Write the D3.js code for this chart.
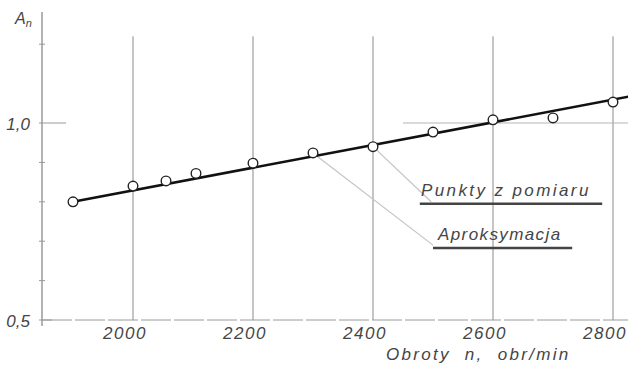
<!DOCTYPE html>
<html>
<head>
<meta charset="utf-8">
<script src="https://cdn.jsdelivr.net/npm/d3@7"></script>
<style>
  body { margin: 0; background: #fff; }
  text { font-family: "Liberation Sans", "DejaVu Sans", sans-serif; font-style: italic; fill: #454545; }
</style>
</head>
<body>
<div id="wrapper"></div>
<script>
// measured points (obroty n, obr/min -> A_n)
const rpm = [1900, 2000, 2055, 2105, 2200, 2300, 2400, 2500, 2600, 2700, 2800]
const an = [0.80, 0.84, 0.853, 0.872, 0.898, 0.924, 0.94, 0.977, 1.008, 1.013, 1.053]
// approximation line end points
const fitRpm = [1900, 2830]
const fitAn = [0.80, 1.068]
const xTicks = [2000, 2200, 2400, 2600, 2800]
const yTicks = [0.5, 1.0]
const yMinor = [0.6, 0.7, 0.8, 0.9, 1.2]
const legendLabels = ["Punkty z pomiaru", "Aproksymacja"]

const width = 628
const height = 365

const svg = d3.select("#wrapper").append("svg")
  .attr("width", width)
  .attr("height", height)

const xScale = d3.scaleLinear().domain([1900, 2800]).range([73, 613])
const yScale = d3.scaleLinear().domain([0.5, 1.0]).range([320, 123])
const axisX = 42

// grid lines
svg.append("g").selectAll("line").data(xTicks).join("line")
  .attr("x1", d => xScale(d)).attr("x2", d => xScale(d))
  .attr("y1", yScale(1.22)).attr("y2", yScale(0.5))
  .attr("stroke", "#8a8a8a").attr("stroke-width", 1)

// 1,0 reference
svg.append("line")
  .attr("x1", xScale(2450)).attr("x2", xScale(2835))
  .attr("y1", yScale(1.0)).attr("y2", yScale(1.0))
  .attr("stroke", "#b5b5b5").attr("stroke-width", 1)

// x axis
svg.append("line")
  .attr("x1", axisX).attr("x2", width)
  .attr("y1", yScale(0.5)).attr("y2", yScale(0.5))
  .attr("stroke", "#9a9a9a").attr("stroke-width", 1)
  .attr("stroke-dasharray", "30,3")

// y axis
svg.append("line")
  .attr("x1", axisX).attr("x2", axisX)
  .attr("y1", 12).attr("y2", yScale(0.5) + 6)
  .attr("stroke", "#8a8a8a").attr("stroke-width", 1.3)

svg.append("g").selectAll("line").data(yMinor).join("line")
  .attr("x1", axisX - 3).attr("x2", axisX + 3)
  .attr("y1", d => yScale(d)).attr("y2", d => yScale(d))
  .attr("stroke", "#999")

svg.append("g").selectAll("line").data(yTicks).join("line")
  .attr("x1", axisX - 3).attr("x2", d => d === 1 ? axisX + 24 : axisX + 10)
  .attr("y1", d => yScale(d)).attr("y2", d => yScale(d))
  .attr("stroke", "#999")

// tick labels
svg.append("g").selectAll("text").data(xTicks).join("text")
  .attr("x", d => xScale(d) - 8).attr("y", 339)
  .attr("text-anchor", "middle")
  .attr("font-size", 17)
  .attr("letter-spacing", 1.5)
  .text(d => d)

svg.append("g").selectAll("text").data(yTicks).join("text")
  .attr("x", 30).attr("y", d => yScale(d) + 7)
  .attr("text-anchor", "end")
  .attr("font-size", 17)
  .text(d => d3.format(".1f")(d).replace(".", ","))

// axis titles
const yTitle = svg.append("text").attr("x", 15).attr("y", 24).attr("font-size", 16)
yTitle.append("tspan").text("A")
yTitle.append("tspan").attr("dy", 3).attr("font-size", 11).text("n")

svg.append("text")
  .attr("x", 386).attr("y", 360)
  .attr("font-size", 17)
  .attr("letter-spacing", 2.3)
  .attr("xml:space", "preserve")
  .text("Obroty  n,  obr/min")

// leader lines
const leaders = [
  [[2400, 0.94], [2497, 0.80]],
  [[2303, 0.92], [2500, 0.69]],
]
svg.append("g").selectAll("line").data(leaders).join("line")
  .attr("x1", d => xScale(d[0][0])).attr("y1", d => yScale(d[0][1]))
  .attr("x2", d => xScale(d[1][0])).attr("y2", d => yScale(d[1][1]))
  .attr("stroke", "#c4c4c4").attr("stroke-width", 1.2)

// legend underlines + labels
const legend = [
  { label: legendLabels[0], x0: 2478, x1: 2782, v: 0.795, tx: 421, ls: 2.4 },
  { label: legendLabels[1], x0: 2500, x1: 2732, v: 0.683, tx: 438, ls: 1.4 },
]
svg.append("g").selectAll("line").data(legend).join("line")
  .attr("x1", d => xScale(d.x0)).attr("x2", d => xScale(d.x1))
  .attr("y1", d => yScale(d.v)).attr("y2", d => yScale(d.v))
  .attr("stroke", "#444").attr("stroke-width", 2.5)

svg.append("g").selectAll("text").data(legend).join("text")
  .attr("x", d => d.tx).attr("y", d => yScale(d.v) - 8)
  .attr("font-size", 17)
  .attr("letter-spacing", d => d.ls)
  .text(d => d.label)

// approximation line
const lineGen = d3.line().x(d => xScale(d[0])).y(d => yScale(d[1]))
svg.append("path")
  .attr("d", lineGen(d3.zip(fitRpm, fitAn)))
  .attr("fill", "none")
  .attr("stroke", "#111")
  .attr("stroke-width", 2.6)

// measurement points
svg.append("g").selectAll("circle").data(d3.zip(rpm, an)).join("circle")
  .attr("cx", d => xScale(d[0])).attr("cy", d => yScale(d[1]))
  .attr("r", 4.8)
  .attr("fill", "#fff")
  .attr("stroke", "#222")
  .attr("stroke-width", 1.4)
</script>
</body>
</html>
